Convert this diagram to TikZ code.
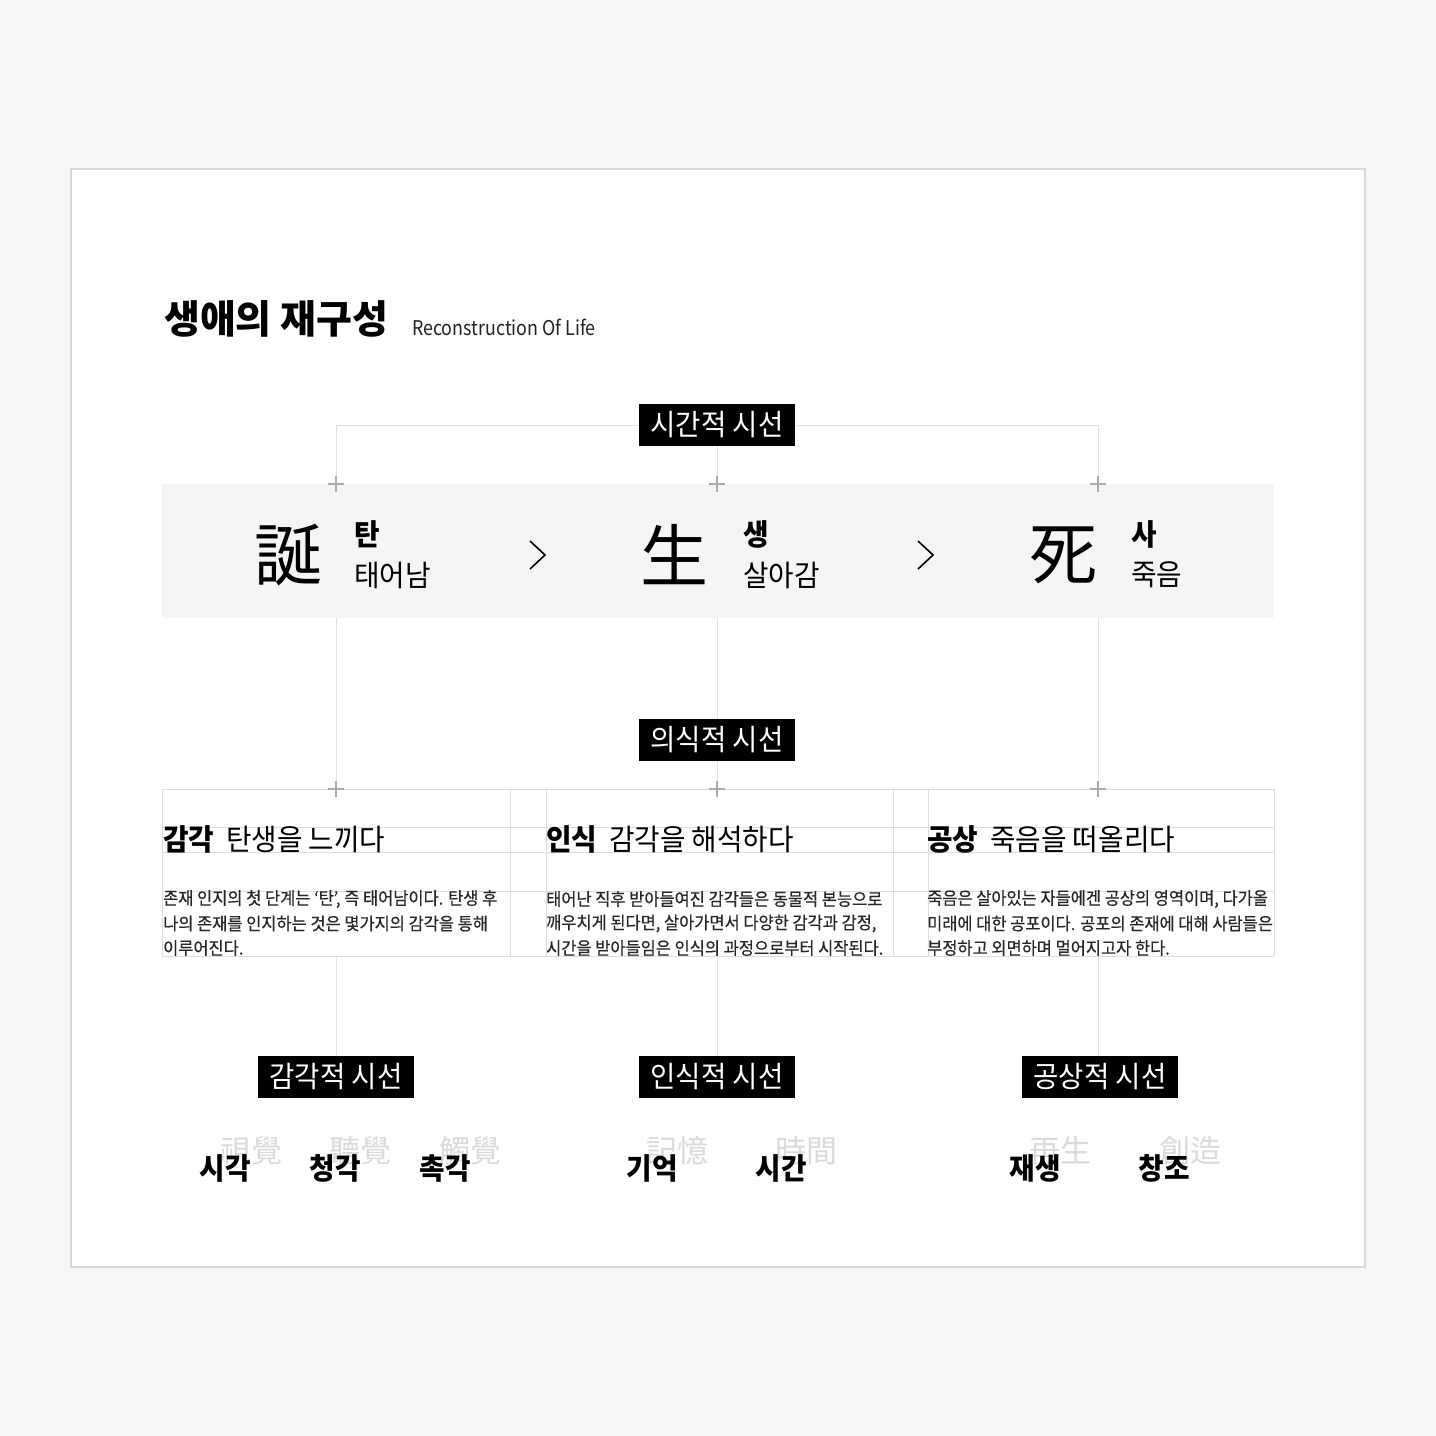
\documentclass[tikz,border=0pt]{standalone}
\usepackage{fontspec}
\setmainfont{Noto Sans CJK KR}
\newfontfamily\krn{Noto Sans CJK KR}[FakeStretch=0.88]
\newfontfamily\krm{Noto Sans CJK KR}[FakeStretch=0.94]
\newfontfamily\krbody{Noto Sans CJK KR}[FakeStretch=0.94, FakeBold=0.4]
\newfontfamily\krw{Noto Sans CJK KR}
\definecolor{bgc}{HTML}{F7F7F7}
\definecolor{framec}{HTML}{D9D9D9}
\definecolor{bandc}{HTML}{F5F5F5}
\definecolor{linec}{HTML}{E2E2E2}
\definecolor{plusc}{HTML}{ABABAB}
\definecolor{gridc}{HTML}{DDDDDD}
\definecolor{faint}{HTML}{DADADA}
\definecolor{bodyc}{HTML}{262626}
\definecolor{subc}{HTML}{222222}
\tikzset{
  tag/.style={fill=black, text=white, minimum width=156pt, minimum height=42pt, inner sep=0pt, font=\krm\fontsize{29.3}{29.3}\selectfont},
  conn/.style={draw=linec, line width=1pt},
  gridline/.style={draw=gridc, line width=1pt},
  plusline/.style={draw=plusc, line width=1.5pt},
  txt/.style={inner sep=0pt},
  hanja/.style={txt, font=\krw\fontsize{68}{68}\selectfont},
  hlabel/.style={txt, anchor=west, font=\krm\bfseries\fontsize{29.5}{29.5}\selectfont},
  hsub/.style={txt, anchor=west, font=\krm\fontsize{29.5}{29.5}\selectfont},
  head/.style={txt, anchor=west, font=\krm\fontsize{29.5}{29.5}\selectfont},
  body/.style={txt, anchor=west, text=bodyc, font=\krbody\fontsize{17.5}{17.5}\selectfont},
  word/.style={txt, font=\krm\bfseries\fontsize{29.5}{29.5}\selectfont},
  ghost/.style={txt, text=faint, font=\krw\fontsize{31}{31}\selectfont},
  chev/.style={line width=1.6pt, line join=miter}
}
\begin{document}
\begin{tikzpicture}[x=1pt,y=-1pt]
\useasboundingbox (0,0) rectangle (1436,1436);
\fill[bgc] (0,0) rectangle (1436,1436);
\draw[framec, line width=2pt, fill=white] (71,169) rectangle (1365,1267);

% title
\node[txt, anchor=west, font=\krw\bfseries\fontsize{39}{39}\selectfont] (title) at (164,319) {생애의 재구성};
\node[txt, anchor=base west, text=subc, font=\krn\fontsize{20.3}{20.3}\selectfont] (subtitle) at (412,335) {Reconstruction Of Life};

% band
\fill[bandc] (162,484) rectangle (1274,618);

% coordinates
\coordinate (t1) at (336,484);
\coordinate (t2) at (717,484);
\coordinate (t3) at (1098,484);
\coordinate (b1) at (336,618);
\coordinate (b2) at (717,618);
\coordinate (b3) at (1098,618);
\coordinate (c1) at (336,789);
\coordinate (c2) at (717,789);
\coordinate (c3) at (1098,789);
\coordinate (d1) at (336,956);
\coordinate (d2) at (717,956);
\coordinate (d3) at (1098,956);

% tags
\node[tag] (tagA) at (717,425) {시간적 시선};
\node[tag] (tagB) at (717,740) {의식적 시선};
\node[tag] (tagC1) at (336,1077) {감각적 시선};
\node[tag] (tagC2) at (717,1077) {인식적 시선};
\node[tag] (tagC3) at (1100,1077) {공상적 시선};

% connectors
\draw[conn] (t1) |- (tagA.west);
\draw[conn] (t3) |- (tagA.east);
\draw[conn] (tagA.south) -- (t2);
\draw[conn] (b1) -- (c1);
\draw[conn] (b3) -- (c3);
\draw[conn] (b2) -- (tagB.north);
\draw[conn] (tagB.south) -- (c2);
\draw[conn] (d1) -- (tagC1.north);
\draw[conn] (d2) -- (tagC2.north);
\draw[conn] (d3) -- (d3 |- tagC3.north);

% hanja row
\node[hanja] (h1) at (288,555) {誕};
\node[hlabel] (l1) at (354,534) {탄};
\node[hsub] (s1) at (354,575) {태어남};
\node[hanja] (h2) at (674,555) {生};
\node[hlabel] (l2) at (743,534) {생};
\node[hsub] (s2) at (743,575) {살아감};
\node[hanja] (h3) at (1063,555) {死};
\node[hlabel] (l3) at (1131,534) {사};
\node[hsub] (s3) at (1131,575) {죽음};
\draw[chev] (530,541) -- (545,555) -- (530,569);
\draw[chev] (918,541) -- (933,555) -- (918,569);

% grid
\foreach \y in {789,827,852,891,956} \draw[gridline] (162,\y) -- (1274,\y);
\foreach \x in {162,510,546,893,928,1274} \draw[gridline] (\x,789) -- (\x,956);

% plus marks
\foreach \p in {t1,t2,t3,c1,c2,c3}
  \draw[plusline] (\p) ++(-8,0) -- ++(16,0) (\p) ++(0,-8) -- ++(0,16);

% headings
\node[head] (k1) at (163,839) {\textbf{감각}\hspace{12pt}탄생을 느끼다};
\node[head] (k2) at (546,839) {\textbf{인식}\hspace{12pt}감각을 해석하다};
\node[head] (k3) at (927,839) {\textbf{공상}\hspace{12pt}죽음을 떠올리다};

% body text
\node[body] (p11) at (163,899) {존재 인지의 첫 단계는 ‘탄’, 즉 태어남이다. 탄생 후};
\node[body] (p12) at (163,923.5) {나의 존재를 인지하는 것은 몇가지의 감각을 통해};
\node[body] (p13) at (163,948) {이루어진다.};
\node[body] (p21) at (546,899) {태어난 직후 받아들여진 감각들은 동물적 본능으로};
\node[body] (p22) at (546,923.5) {깨우치게 된다면, 살아가면서 다양한 감각과 감정,};
\node[body] (p23) at (546,948) {시간을 받아들임은 인식의 과정으로부터 시작된다.};
\node[body] (p31) at (927,899) {죽음은 살아있는 자들에겐 공상의 영역이며, 다가올};
\node[body] (p32) at (927,923.5) {미래에 대한 공포이다. 공포의 존재에 대해 사람들은};
\node[body] (p33) at (927,948) {부정하고 외면하며 멀어지고자 한다.};

% bottom words
\node[ghost] (g1) at (251,1151) {視覺};
\node[ghost] (g2) at (360,1151) {聽覺};
\node[ghost] (g3) at (470,1151) {觸覺};
\node[ghost] (g4) at (677,1151) {記憶};
\node[ghost] (g5) at (806,1151) {時間};
\node[ghost] (g6) at (1060,1151) {再生};
\node[ghost] (g7) at (1190,1151) {創造};
\node[word] (w1) at (225,1168) {시각};
\node[word] (w2) at (335,1168) {청각};
\node[word] (w3) at (445,1168) {촉각};
\node[word] (w4) at (652,1168) {기억};
\node[word] (w5) at (781,1168) {시간};
\node[word] (w6) at (1035,1168) {재생};
\node[word] (w7) at (1164,1168) {창조};
\end{tikzpicture}
\end{document}
